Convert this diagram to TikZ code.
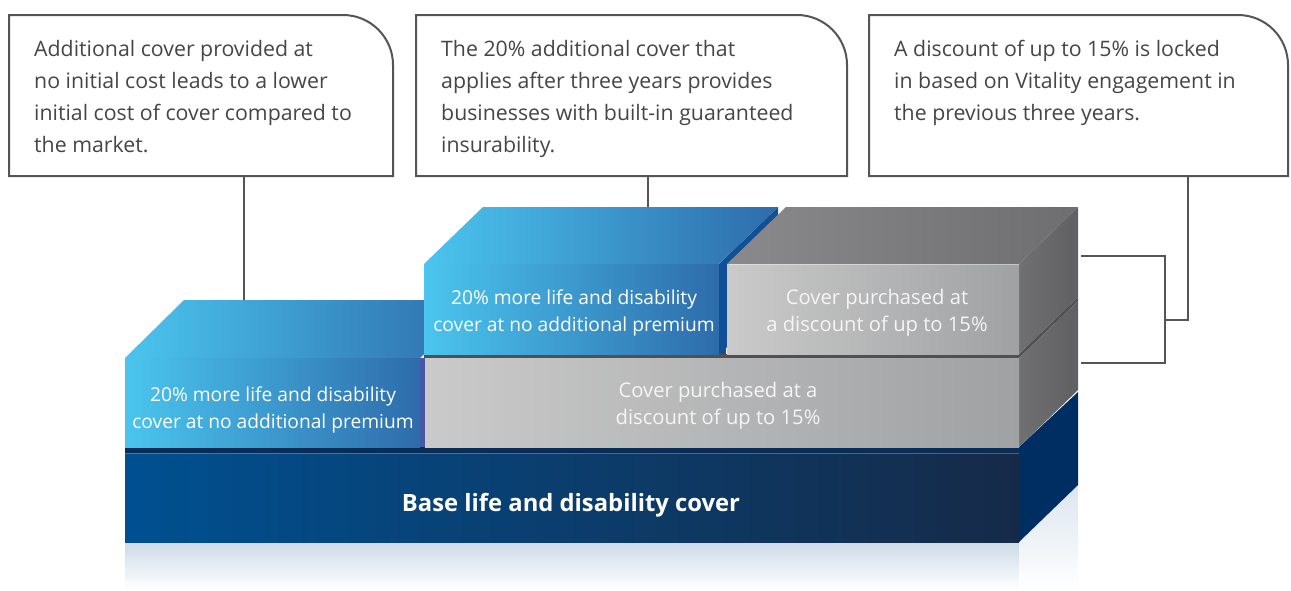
\documentclass[tikz,border=0pt]{standalone}
\usepackage{fontspec}
\setmainfont{Open Sans}
\definecolor{boxgray}{RGB}{85,85,85}
\definecolor{txtgray}{RGB}{70,70,70}
\definecolor{cyanL}{RGB}{74,197,238}
\definecolor{blueR}{RGB}{46,108,172}
\definecolor{blueSide}{RGB}{18,80,150}
\definecolor{purpSide}{RGB}{72,88,165}
\definecolor{greyL}{RGB}{202,202,202}
\definecolor{greyR}{RGB}{160,161,163}
\definecolor{greyTopL}{RGB}{138,138,140}
\definecolor{greyTopR}{RGB}{110,110,112}
\definecolor{greySideF}{RGB}{112,112,114}
\definecolor{greySideB}{RGB}{96,96,98}
\definecolor{greyLine}{RGB}{80,80,82}
\definecolor{greyText}{RGB}{245,245,245}
\definecolor{navyL}{RGB}{0,80,145}
\definecolor{navyR}{RGB}{22,42,72}
\definecolor{navySide}{RGB}{0,46,98}
\definecolor{navyEdge}{RGB}{10,45,88}
\definecolor{reflect}{RGB}{205,218,232}
\begin{document}
\begin{tikzpicture}[x=1pt,y=-1pt]
\tikzset{
  callout/.style={draw=boxgray, line width=2pt},
  link/.style={draw=boxgray, line width=2pt},
  ctext/.style={anchor=north west, inner sep=0pt, align=left, text=txtgray,
    font=\fontsize{21.3}{32}\selectfont},
  btext/.style={inner sep=0pt, align=center, text=white,
    font=\fontsize{19.2}{27.5}\selectfont},
  gtext/.style={inner sep=0pt, align=center, text=greyText,
    font=\fontsize{20.2}{27}\selectfont},
  bluefront/.style={left color=cyanL, right color=blueR},
  greyfront/.style={left color=greyL, right color=greyR},
  greytop/.style={left color=greyTopL, right color=greyTopR},
  greyside/.style={left color=greySideF, right color=greySideB},
}
\fill[white] (0,0) rectangle (1291,590);
\useasboundingbox (0,0) rectangle (1291,590);

% ---------- reflection ----------
\shade[top color=reflect, bottom color=white] (125,542) rectangle (1019,590);
\shade[top color=reflect!70, bottom color=white] (1019,542) -- (1078,485) -- (1078,590) -- (1019,590) -- cycle;

% ---------- base block ----------
\fill[navySide] (1019,447) -- (1078,392) -- (1078,485) -- (1019,542) -- cycle;
\shade[left color=navyL, right color=navyR] (125,447) rectangle (1019,542);
\fill[navyEdge] (125,447) rectangle (1019,453);
\draw[white, opacity=0.25, line width=0.8pt] (125,453) -- (1019,453);
\node[inner sep=0pt, anchor=base, text=white, font=\fontsize{23.8}{26}\selectfont\bfseries] (base) at (571,511) {Base life and disability cover};

% ---------- lower layer ----------
% grey lower block
\fill[greyLine] (1019,354) -- (1078,297) -- (1078,301) -- (1019,358) -- cycle;
\shade[greyside] (1019,358) -- (1078,301) -- (1078,390) -- (1019,447) -- cycle;
\shade[greyfront] (425,356) rectangle (1019,447);
\fill[greyLine] (424,354) rectangle (1019,357.5);
% left blue block
\shade[bluefront] (125,358) -- (184,300) -- (479,300) -- (420,358) -- cycle;
\draw[white, opacity=0.5, line width=0.8pt] (127,358.5) -- (420,358.5);
\shade[bluefront] (125,358) rectangle (420,447);
\fill[purpSide] (420,358) rectangle (425,447);
\node[btext] (lb) at (273,410) {20\% more life and disability\\cover at no additional premium};
\node[gtext] (lg) at (718,406) {Cover purchased at a\\discount of up to 15\%};

% ---------- upper layer ----------
% upper blue block
\fill[blueSide] (719,264) -- (778,207) -- (778,297) -- (719,355) -- cycle;
\shade[bluefront] (424,264) -- (483,207) -- (778,207) -- (719,264) -- cycle;
\draw[white, opacity=0.5, line width=0.8pt] (426,264.5) -- (719,264.5);
\shade[bluefront] (424,264) rectangle (719,354);
\fill[blueSide] (719,264) rectangle (726,354);
\node[btext] (ub) at (574,313) {20\% more life and disability\\cover at no additional premium};
% upper grey block
\shade[greyside] (1019,264) -- (1078,207) -- (1078,297) -- (1019,354) -- cycle;
\shade[greytop] (727,264) -- (786,207) -- (1078,207) -- (1019,264) -- cycle;
\shade[greyfront] (727,264) rectangle (1019,354);
\draw[white, opacity=0.4, line width=0.8pt] (729,264.5) -- (1019,264.5);
\node[gtext] (ug) at (877,313) {Cover purchased at\\a discount of up to 15\%};

% ---------- callouts ----------
\draw[callout] (9,176) -- (9,15) -- (343,15) arc[start angle=-90, end angle=0, radius=50] -- (393,176) -- cycle;
\node[ctext] (t1) at (34,40) {Additional cover provided at\\no initial cost leads to a lower\\initial cost of cover compared to\\the market.};
\draw[callout] (416,176) -- (416,15) -- (797,15) arc[start angle=-90, end angle=0, radius=50] -- (847,176) -- cycle;
\node[ctext] (t2) at (441,40) {The 20\% additional cover that\\applies after three years provides\\businesses with built-in guaranteed\\insurability.};
\draw[callout] (869,176) -- (869,15) -- (1238,15) arc[start angle=-90, end angle=0, radius=50] -- (1288,176) -- cycle;
\node[ctext] (t3) at (894,40) {A discount of up to 15\% is locked\\in based on Vitality engagement in\\the previous three years.};

% ---------- connectors ----------
\coordinate (c1s) at (244,176);
\coordinate (c1e) at (244,300);
\coordinate (c2s) at (648,176);
\coordinate (c2e) at (648,207);
\coordinate (c3s) at (1188,176);
\coordinate (brM) at (1165,320);
\coordinate (gU) at (1081,256);
\coordinate (gL) at (1081,363);
\coordinate (brT) at (1165,256);
\coordinate (brB) at (1165,363);
\draw[link] (c1s) -- (c1e);
\draw[link] (c2s) -- (c2e);
\draw[link] (gU) -- (brT) -- (brB) -- (gL);
\draw[link] (c3s) |- (brM);
\end{tikzpicture}
\end{document}
